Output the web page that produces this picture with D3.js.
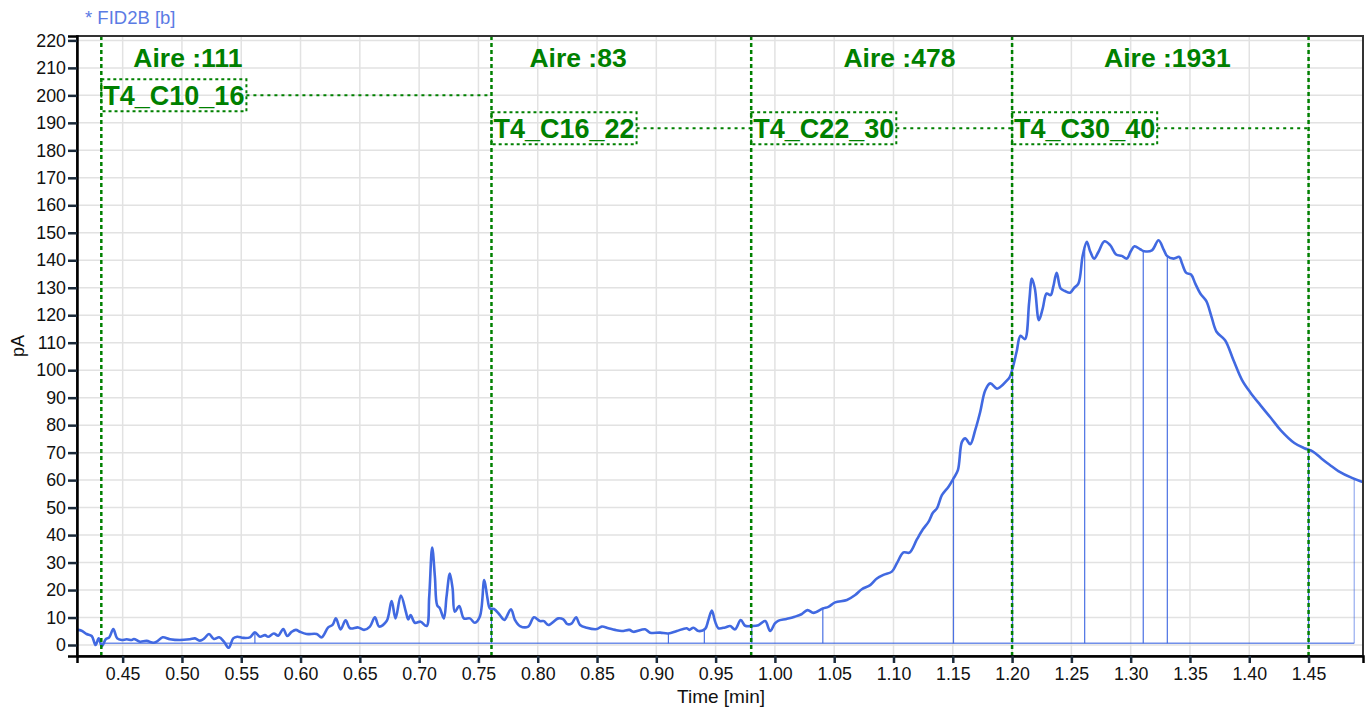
<!DOCTYPE html>
<html>
<head>
<meta charset="utf-8">
<script src="https://cdn.jsdelivr.net/npm/d3@7"></script>
<style>
  html, body { margin: 0; padding: 0; background: #ffffff; }
  svg { display: block; font-family: "Liberation Sans", Arial, sans-serif; }
</style>
</head>
<body>
<svg id="chart" width="1370" height="710"></svg>
<script>
// ---------------- DATA ----------------
const chartTitle = "* FID2B [b]";
const xLabel = "Time [min]";
const yLabel = "pA";

const xTicks = [0.45,0.50,0.55,0.60,0.65,0.70,0.75,0.80,0.85,0.90,0.95,1.00,1.05,1.10,1.15,1.20,1.25,1.30,1.35,1.40,1.45];
const yTicks = [0,10,20,30,40,50,60,70,80,90,100,110,120,130,140,150,160,170,180,190,200,210,220];

// chromatogram trace: time [min]
const traceTime = [
0.4117,0.4154,0.4196,0.4239,0.4272,0.4298,0.4325,0.4359,0.4387,0.4421,0.4454,0.4492,0.4534,0.4576,0.4595,0.4646,0.4702,0.4758,0.4787,0.4837,
0.4899,0.4983,0.5067,0.5110,0.5152,0.5186,0.5228,0.5270,0.5314,0.5354,0.5394,0.5432,0.5466,0.5517,0.5573,0.5615,0.5658,0.5700,0.5727,0.5775,
0.5812,0.5854,0.5888,0.5925,0.5961,0.5995,0.6051,0.6136,0.6178,0.6233,0.6270,0.6298,0.6338,0.6380,0.6417,0.6486,0.6535,0.6585,0.6627,0.6663,
0.6726,0.6768,0.6801,0.6846,0.6888,0.6908,0.6928,0.6964,0.7012,0.7063,0.7085,0.7110,0.7133,0.7152,0.7175,0.7209,0.7231,0.7259,0.7282,0.7301,
0.7338,0.7377,0.7428,0.7470,0.7513,0.7549,0.7574,0.7597,0.7631,0.7681,0.7718,0.7774,0.7808,0.7850,0.7920,0.7968,0.8019,0.8053,0.8089,0.8174,
0.8216,0.8250,0.8287,0.8323,0.8357,0.8413,0.8498,0.8540,0.8596,0.8652,0.8709,0.8773,0.8807,0.8905,0.8948,0.9032,0.9102,0.9173,0.9257,0.9279,
0.9313,0.9355,0.9411,0.9439,0.9468,0.9496,0.9523,0.9580,0.9622,0.9664,0.9712,0.9749,0.9805,0.9861,0.9918,0.9960,1.0000,1.0027,1.0098,1.0167,
1.0224,1.0275,1.0325,1.0404,1.0451,1.0508,1.0607,1.0677,1.0733,1.0803,1.0860,1.0915,1.0986,1.1028,1.1084,1.1135,1.1197,1.1248,1.1295,1.1332,
1.1366,1.1408,1.1464,1.1506,1.1543,1.1577,1.1605,1.1647,1.1689,1.1731,1.1774,1.1816,1.1872,1.1900,1.1953,1.1981,1.2004,1.2038,1.2071,1.2108,
1.2144,1.2167,1.2192,1.2226,1.2258,1.2291,1.2325,1.2347,1.2376,1.2410,1.2446,1.2489,1.2522,1.2559,1.2596,1.2630,1.2658,1.2692,1.2728,1.2779,
1.2827,1.2877,1.2925,1.2968,1.3001,1.3032,1.3080,1.3114,1.3179,1.3235,1.3277,1.3306,1.3362,1.3410,1.3433,1.3469,1.3509,1.3545,1.3587,1.3638,
1.3681,1.3724,1.3796,1.3867,1.3938,1.4009,1.4095,1.4181,1.4266,1.4380,1.4465,1.4537,1.4608,1.4680,1.4751,1.4866,1.4963
];
// chromatogram trace: signal [pA]
const traceSignal = [
5.5,5.2,4.0,3.3,0.0,2.4,-0.4,2.2,2.8,5.8,2.4,1.8,2.1,1.8,2.2,1.2,1.5,0.8,1.2,2.8,
2.1,1.8,2.1,2.4,1.6,2.3,4.0,2.2,2.8,1.2,-1.0,2.4,3.0,2.6,2.8,4.6,3.0,3.6,3.0,4.2,
3.4,5.8,3.3,4.8,5.5,4.8,4.0,4.0,2.8,6.4,7.3,9.7,5.7,9.0,6.1,6.4,5.5,6.7,10.1,6.7,
8.7,16.0,9.7,18.0,12.1,9.3,10.9,8.1,8.5,6.9,17.6,35.5,24.8,14.5,13.3,9.7,17.6,26.0,20.6,12.1,
14.2,9.7,9.7,8.1,10.5,23.6,17.6,13.3,13.1,10.9,9.1,13.0,9.1,6.9,6.7,10.1,8.7,8.7,7.3,9.7,
9.3,7.6,7.9,10.1,7.3,6.3,5.8,6.7,6.1,5.5,5.1,5.5,4.8,5.7,4.5,4.5,4.2,5.1,6.1,5.5,
6.3,5.1,5.8,9.1,12.5,8.5,6.1,6.4,6.9,5.7,9.1,7.0,6.9,7.2,8.7,5.1,7.9,8.8,9.5,10.3,
11.2,12.7,11.7,13.3,13.9,15.5,16.4,18.2,20.3,21.8,24.2,25.5,26.7,29.7,33.7,33.6,38.4,42.1,44.8,48.1,
49.7,54.5,57.6,60.6,63.6,73.9,75.2,73.1,78.2,84.8,92.7,95.2,93.3,93.9,96.1,97.6,100.6,106.7,112.5,111.3,
124.8,133.3,129.7,118.2,122.4,127.9,127.3,130.3,135.4,129.7,128.8,128.2,129.9,131.5,141.8,146.7,143.3,140.6,143.0,146.9,
145.5,142.1,141.6,140.6,143.3,145.1,144.0,143.3,143.6,147.3,144.0,141.6,140.6,141.2,138.8,135.4,134.8,131.5,127.9,125.1,
119.5,114.0,110.9,103.6,96.5,91.9,87.2,82.7,78.1,73.5,71.6,70.4,67.9,65.5,63.3,60.8,59.2
];

// integration baseline (start, end) and its level
const baselineTime = [0.4325, 1.4885];
const baselineSignal = [0.6, 0.6];

// integration event drop lines: time and signal at top
const dropTime   = [0.5615, 0.7610, 0.9102, 0.9405, 0.9805, 1.0404, 1.1506, 1.2004, 1.2612, 1.3106, 1.3309, 1.4500, 1.4885];
const dropSignal = [4.6, 13.3, 4.2, 6.0, 6.9, 13.3, 60.6, 99.0, 144.0, 143.3, 141.6, 71.0, 60.5];

// group windows
const groupBounds = [0.432, 0.761, 0.980, 1.200, 1.450];
const groupNames  = ["T4_C10_16", "T4_C16_22", "T4_C22_30", "T4_C30_40"];
const groupAreas  = [111, 83, 478, 1931];
const groupLabelLevel = [200, 188, 188, 188];
const areaLabelTime = [0.505, 0.834, 1.105, 1.331];
const areaLabelLevel = 210.5;

// ---------------- DRAW ----------------
const svg = d3.select("#chart");
const L = 77, R = 1363, T = 36, B = 656;

const x = d3.scaleLinear().domain([0.4115, 1.4959]).range([L, R]);
const y = d3.scaleLinear().domain([-4, 221.6]).range([B, T]);

const green = "#008000";
const blue = "#4169E1";

// grid
const grid = svg.append("g");
grid.selectAll("line.gx").data(xTicks).enter().append("line")
  .attr("x1", d => x(d)).attr("x2", d => x(d)).attr("y1", T).attr("y2", B)
  .attr("stroke", "#e2e2e2").attr("stroke-width", 1.5);
grid.selectAll("line.gy").data(yTicks).enter().append("line")
  .attr("x1", L).attr("x2", R).attr("y1", d => y(d)).attr("y2", d => y(d))
  .attr("stroke", "#e2e2e2").attr("stroke-width", 1.5);

// clip
svg.append("clipPath").attr("id", "plotclip").append("rect")
  .attr("x", L).attr("y", T).attr("width", R - L).attr("height", B - T);
const plot = svg.append("g").attr("clip-path", "url(#plotclip)");

// baseline
plot.append("line")
  .attr("x1", x(baselineTime[0])).attr("x2", x(baselineTime[1]))
  .attr("y1", y(baselineSignal[0])).attr("y2", y(baselineSignal[1]))
  .attr("stroke", blue).attr("stroke-opacity", 0.75).attr("stroke-width", 1.5);

// drop lines
plot.selectAll("line.drop").data(dropTime).enter().append("line")
  .attr("x1", d => x(d)).attr("x2", d => x(d))
  .attr("y1", y(baselineSignal[0])).attr("y2", (d, i) => y(dropSignal[i]))
  .attr("stroke", blue).attr("stroke-width", 1.2)
  .attr("stroke-opacity", (d, i) => i === dropTime.length - 1 ? 0.55 : 0.95);

// trace
const pts = traceTime.map((t, i) => [t, traceSignal[i]]);
const line = d3.line().x(d => x(d[0])).y(d => y(d[1])).curve(d3.curveCatmullRom.alpha(0.5));
plot.append("path").attr("d", line(pts))
  .attr("fill", "none").attr("stroke", blue).attr("stroke-width", 2.6)
  .attr("stroke-linejoin", "round");

// group boundaries (green dotted)
plot.selectAll("line.bound").data(groupBounds).enter().append("line")
  .attr("x1", d => x(d)).attr("x2", d => x(d)).attr("y1", T).attr("y2", B)
  .attr("stroke", green).attr("stroke-width", 2.5).attr("stroke-dasharray", "4,3");

// group labels with dotted boxes and connectors
const ann = svg.append("g");
groupNames.forEach((name, i) => {
  const x0 = x(groupBounds[i]);
  const cy = y(groupLabelLevel[i]);
  const txt = ann.append("text")
    .attr("x", x0 + 2).attr("y", cy + 9.5)
    .attr("font-size", 27).attr("font-weight", "bold").attr("fill", green)
    .text(name);
  const w = txt.node().getComputedTextLength();
  ann.insert("rect", "text")
    .attr("x", x0).attr("y", cy - 16).attr("width", w + 4).attr("height", 32)
    .attr("fill", "none").attr("stroke", green).attr("stroke-width", 2)
    .attr("stroke-dasharray", "3,3");
  ann.append("line")
    .attr("x1", x0 + w + 4).attr("x2", x(groupBounds[i + 1]))
    .attr("y1", cy).attr("y2", cy)
    .attr("stroke", green).attr("stroke-width", 2).attr("stroke-dasharray", "3,4");
  ann.append("text")
    .attr("x", x(areaLabelTime[i])).attr("y", y(areaLabelLevel))
    .attr("text-anchor", "middle")
    .attr("font-size", 26.5).attr("font-weight", "bold").attr("fill", green)
    .text("Aire :" + groupAreas[i]);
});

// frame
svg.append("rect").attr("x", L).attr("y", T).attr("width", R - L).attr("height", B - T)
  .attr("fill", "none").attr("stroke", "#333").attr("stroke-width", 2);

// axes
const xAxis = d3.axisBottom(x).tickValues(xTicks).tickFormat(d3.format(".2f")).tickSizeOuter(0).tickSize(7).tickPadding(4);
const gx = svg.append("g").attr("transform", `translate(0,${B})`).call(xAxis);
const yAxis = d3.axisLeft(y).tickValues(yTicks).tickFormat(d3.format("d")).tickSizeOuter(0).tickSize(9).tickPadding(2);
const gy = svg.append("g").attr("transform", `translate(${L},0)`).call(yAxis);
[gx, gy].forEach(g => {
  g.select(".domain").attr("stroke", "#000").attr("stroke-width", 2.5);
  g.selectAll(".tick line").attr("stroke", "#1b2a3a").attr("stroke-width", 2.5);
  g.selectAll(".tick text").attr("fill", "#111").attr("font-size", 17.8)
    .attr("font-family", "'Liberation Sans', Arial, sans-serif");
});

// labels
svg.append("text").attr("x", 85).attr("y", 24).attr("font-size", 18.5)
  .attr("fill", "#5b7be4").text(chartTitle);
svg.append("text").attr("x", 721).attr("y", 703).attr("text-anchor", "middle")
  .attr("font-size", 19).attr("fill", "#111").text(xLabel);
svg.append("text").attr("transform", `translate(24,${(T + B) / 2}) rotate(-90)`)
  .attr("text-anchor", "middle").attr("font-size", 18).attr("fill", "#111").text(yLabel);
</script>
</body>
</html>
